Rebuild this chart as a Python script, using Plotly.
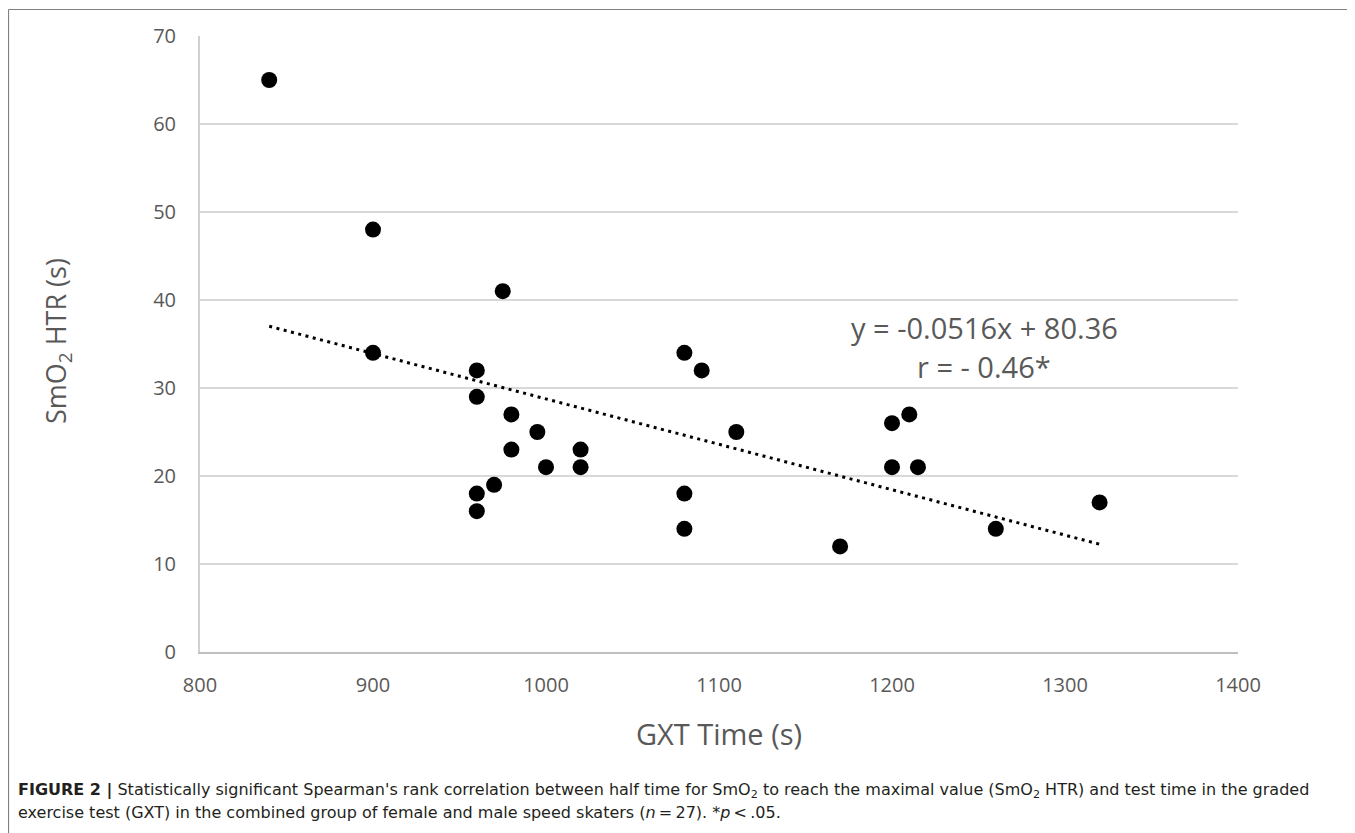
import plotly.graph_objects as go

# ---- data ----
gxt_time = [840, 900, 900, 975, 960, 960, 960, 960, 970, 980, 980, 995, 1000,
            1020, 1020, 1080, 1090, 1110, 1080, 1080, 1170, 1200, 1210, 1200,
            1215, 1260, 1320]
smo2_htr = [65, 48, 34, 41, 32, 29, 18, 16, 19, 27, 23, 25, 21,
            23, 21, 34, 32, 25, 18, 14, 12, 26, 27, 21,
            21, 14, 17]
slope = -0.0516
intercept = 80.36
trend_x = [840, 1320]
x_ticks = [800, 900, 1000, 1100, 1200, 1300, 1400]
y_ticks = [0, 10, 20, 30, 40, 50, 60, 70]
x_title = "GXT Time (s)"
y_title = "SmO<sub>2</sub> HTR (s)"
equation_text = "y = -0.0516x + 80.36"
r_text = "r = - 0.46*"
caption_line1 = ("<b>FIGURE 2 |</b> Statistically significant Spearman's rank correlation between half time for "
                 "SmO<sub>2</sub> to reach the maximal value (SmO<sub>2</sub> HTR) and test time in the graded")
caption_line2 = ("exercise test (GXT) in the combined group of female and male speed skaters "
                 "(<i>n</i>\u2009=\u200927). *<i>p</i>\u2009<\u2009.05.")

OFF = 8  # page body margin
W, H = 1355 - OFF, 833 - OFF
L, R, T, B = 200 - OFF, 1238 - OFF, 36 - OFF, 652 - OFF  # plot area in figure pixels


def px(x):  # screen x -> paper
    return (x - OFF - L) / (R - L)


def py(y):  # screen y -> paper
    return (B - (y - OFF)) / (B - T)


trend_y = [slope * v + intercept for v in trend_x]

fig = go.Figure()
fig.add_trace(go.Scatter(
    x=trend_x, y=trend_y, mode="lines",
    line=dict(color="black", width=3, dash="3px,4.5px"),
    hoverinfo="skip", showlegend=False))
fig.add_trace(go.Scatter(
    x=gxt_time, y=smo2_htr, mode="markers",
    marker=dict(color="black", size=16, line=dict(width=0)),
    showlegend=False))

grey = "#595959"
fig.update_layout(
    width=W, height=H,
    margin=dict(l=L, r=W - R, t=T, b=H - B, autoexpand=False),
    paper_bgcolor="white", plot_bgcolor="white",
    font=dict(family="Open Sans, sans-serif", color=grey),
    xaxis=dict(range=[800, 1400], tickvals=x_ticks, showgrid=False, zeroline=False,
               showline=True, linecolor="#bfbfbf", linewidth=2,
               tickfont=dict(size=20, color=grey), ticks="", ticklabelstandoff=14,
               title=dict(text=x_title, font=dict(size=29, color=grey), standoff=28)),
    yaxis=dict(range=[0, 70], tickvals=y_ticks, showgrid=True, gridcolor="#d9d9d9",
               gridwidth=2, zeroline=False, showline=True, linecolor="#d0d0d0", linewidth=2,
               tickfont=dict(size=20, color=grey), ticks="", ticklabelstandoff=18),
)

fig.add_annotation(x=px(57), y=py(341), xref="paper", yref="paper", text=y_title,
                   textangle=-90, showarrow=False, font=dict(size=27, color=grey),
                   xanchor="center", yanchor="middle")
fig.add_annotation(x=px(984), y=py(327), xref="paper", yref="paper", text=equation_text,
                   showarrow=False, font=dict(size=29, color=grey), xanchor="center",
                   yanchor="middle")
fig.add_annotation(x=px(984), y=py(366), xref="paper", yref="paper", text=r_text,
                   showarrow=False, font=dict(size=29, color=grey), xanchor="center",
                   yanchor="middle")

cap_font = dict(family="DejaVu Sans, Liberation Sans, Arial, sans-serif",
                size=16, color="#231f20")
fig.add_annotation(x=px(16), y=py(790), xref="paper", yref="paper", text=caption_line1,
                   showarrow=False, font=cap_font, xanchor="left", yanchor="middle")
fig.add_annotation(x=px(16), y=py(812), xref="paper", yref="paper", text=caption_line2,
                   showarrow=False, font=cap_font, xanchor="left", yanchor="middle")

# frame around figure
fig.add_shape(type="line", xref="paper", yref="paper", x0=px(8.5), x1=px(1360),
              y0=py(9.5), y1=py(9.5), line=dict(color="#808080", width=1.2))
fig.add_shape(type="line", xref="paper", yref="paper", x0=px(8.5), x1=px(8.5),
              y0=py(9.5), y1=py(845), line=dict(color="#808080", width=1.2))
fig.add_shape(type="line", xref="paper", yref="paper", x0=px(1353), x1=px(1353),
              y0=py(9.5), y1=py(845), line=dict(color="#e6e6e6", width=1))

fig.write_html("out.html")
